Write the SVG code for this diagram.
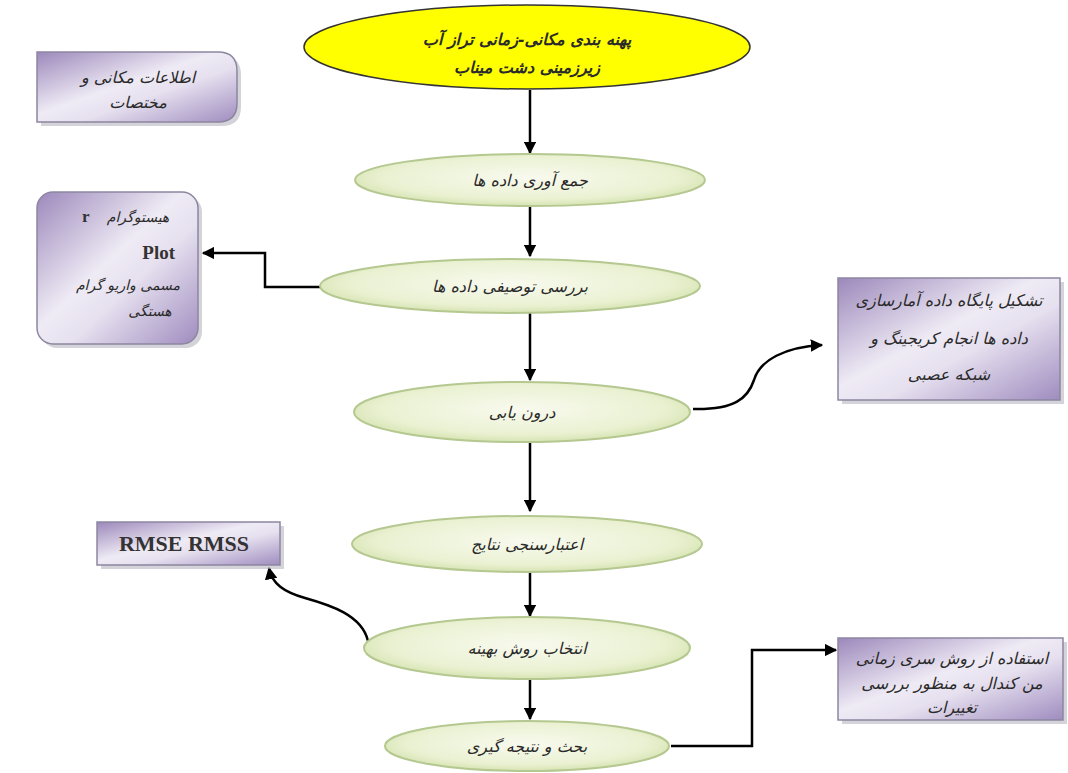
<svg xmlns="http://www.w3.org/2000/svg" width="1068" height="773" viewBox="0 0 1068 773">
<defs>
<radialGradient id="gEll" cx="50%" cy="45%" r="60%">
<stop offset="0" stop-color="#f8faee"/>
<stop offset="0.7" stop-color="#eaf1d2"/>
<stop offset="1" stop-color="#cfdfa6"/>
</radialGradient>
<linearGradient id="gBox" x1="0" y1="0" x2="1" y2="1">
<stop offset="0" stop-color="#9c88bb"/>
<stop offset="0.45" stop-color="#efebf5"/>
<stop offset="0.6" stop-color="#e6e0ef"/>
<stop offset="1" stop-color="#9f8cbf"/>
</linearGradient>
<marker id="ah" viewBox="0 0 10 10" refX="9" refY="5" markerWidth="5" markerHeight="5" orient="auto" markerUnits="strokeWidth">
<path d="M0,0 L10,5 L0,10 z" fill="#000"/>
</marker>
</defs>
<style>
.ell{fill:url(#gEll);stroke:#b4c890;stroke-width:2}
.box{fill:url(#gBox);stroke:#8d86a0;stroke-width:1.5}
.shadow{fill:#b8b6c0;opacity:0.6}
.con{fill:none;stroke:#000;stroke-width:2.5;marker-end:url(#ah)}
.fa{font-family:"DejaVu Sans",sans-serif;font-size:16px;fill:#2a2a2a;text-anchor:middle;font-style:italic}
.sm{font-size:14px}
.en{font-family:"Liberation Serif",serif;font-weight:bold;fill:#333}
</style>
<rect width="1068" height="773" fill="#fff"/>

<g id="connectors">
<path class="con" d="M530,90 L530,153"/>
<path class="con" d="M530,206 L530,256"/>
<path class="con" d="M322,287 L265,287 L265,253 L203,253"/>
<path class="con" d="M530,313 L530,380"/>
<path class="con" d="M693,409 C735,410 748,398 754,380 C760,360 785,347 822,345"/>
<path class="con" d="M530,443 L530,511"/>
<path class="con" d="M530,573 L530,616"/>
<path class="con" d="M368,641 C362,615 330,605 305,598 C284,592 272,584 269,568"/>
<path class="con" d="M530,680 L530,719"/>
<path class="con" d="M671,746 L752,746 L752,650 L836,650"/>
</g>

<g id="n-top">
<ellipse cx="527" cy="47" rx="223" ry="42" fill="#ffff00" stroke="#333" stroke-width="1.5"/>
<text class="fa" x="527" y="45" font-weight="bold" font-size="18">پهنه بندی مکانی-زمانی تراز آب</text>
<text class="fa" x="527" y="73" font-weight="bold" font-size="18">زیرزمینی دشت میناب</text>
</g>

<g id="n-coord">
<path class="shadow" d="M41,56 L222,56 Q241,56 241,75 L241,107 Q241,126 222,126 L41,126 z"/>
<path class="box" d="M37,52 L218,52 Q237,52 237,71 L237,103 Q237,122 218,122 L37,122 z"/>
<text class="fa" x="138" y="83">اطلاعات مکانی و</text>
<text class="fa" x="138" y="108">مختصات</text>
</g>

<g id="n-collect">
<ellipse class="ell" cx="530" cy="180" rx="175" ry="26"/>
<text class="fa" x="530" y="186">جمع آوری داده ها</text>
</g>

<g id="n-describe">
<ellipse class="ell" cx="510" cy="286" rx="190" ry="27"/>
<text class="fa" x="510" y="292">بررسی توصیفی داده ها</text>
</g>

<g id="n-plots">
<rect class="shadow" x="41" y="196" width="161" height="152" rx="16"/>
<rect class="box" x="37" y="192" width="161" height="152" rx="16"/>
<text class="fa sm" x="138" y="222">هیستوگرام</text>
<text class="en" x="82" y="222" font-size="17">r</text>
<text class="en" x="175" y="259" font-size="19" text-anchor="end">Plot</text>
<text class="fa sm" x="128" y="290">مسمی واریو گرام</text>
<text class="fa sm" x="150" y="316">هستگی</text>
</g>

<g id="n-interp">
<ellipse class="ell" cx="522" cy="412" rx="168" ry="30"/>
<text class="fa" x="522" y="418">درون یابی</text>
</g>

<g id="n-database">
<rect class="shadow" x="842" y="282" width="222" height="122"/>
<rect class="box" x="838" y="278" width="222" height="122"/>
<text class="fa" x="949" y="306">تشکیل پایگاه داده آمارسازی</text>
<text class="fa" x="949" y="344">داده ها انجام کریجینگ و</text>
<text class="fa" x="949" y="380">شبکه عصبی</text>
</g>

<g id="n-validate">
<ellipse class="ell" cx="527" cy="544" rx="175" ry="28"/>
<text class="fa" x="527" y="550">اعتبارسنجی نتایج</text>
</g>

<g id="n-rmse">
<rect class="shadow" x="101" y="526" width="183" height="43"/>
<rect class="box" x="97" y="522" width="183" height="43"/>
<text class="en" x="184" y="551" font-size="22" text-anchor="middle">RMSE RMSS</text>
</g>

<g id="n-select">
<ellipse class="ell" cx="527" cy="648" rx="163" ry="31"/>
<text class="fa" x="527" y="654">انتخاب روش بهینه</text>
</g>

<g id="n-conclude">
<ellipse class="ell" cx="527" cy="746" rx="142" ry="25"/>
<text class="fa" x="527" y="752">بحث و نتیجه گیری</text>
</g>

<g id="n-timeseries">
<rect class="shadow" x="842" y="642" width="225" height="82"/>
<rect class="box" x="838" y="638" width="225" height="82"/>
<text class="fa" x="952" y="664">استفاده از روش سری زمانی</text>
<text class="fa" x="952" y="689">من کندال به منظور بررسی</text>
<text class="fa" x="952" y="713">تغییرات</text>
</g>
</svg>
